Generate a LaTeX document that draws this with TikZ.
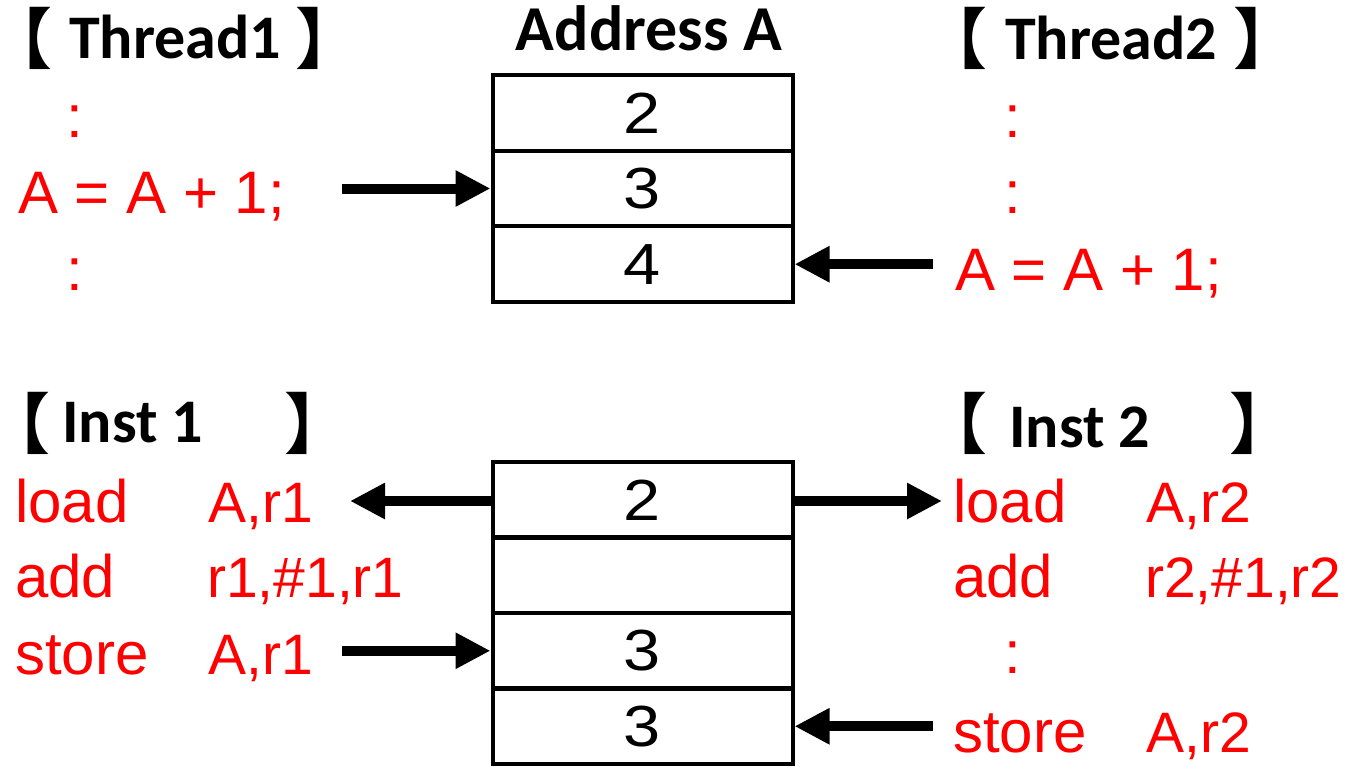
\documentclass[tikz,border=0pt]{standalone}
\usepackage{fontspec}
\usepackage{graphicx}
\setmainfont{Liberation Sans}
\newfontfamily\lblfont{Carlito}
\newfontfamily\cjkfont{Noto Sans CJK JP Bold}
\usetikzlibrary{arrows.meta}
\newcommand{\obr}{\makebox[0.62em][r]{【}}
\newcommand{\cbr}{\makebox[0.62em][l]{】}}
\newcommand{\dig}[1]{\scalebox{1.15}[1]{#1}}
\begin{document}
\begin{tikzpicture}[x=1pt,y=-1pt,
  code/.style={font=\fontsize{60}{72}\selectfont, text=red, inner sep=0pt, anchor=base west},
  oper/.style={code, font=\fontsize{57}{68}\selectfont},
  lbl/.style={font=\lblfont\bfseries\fontsize{62}{74}\selectfont, inner sep=0pt, anchor=base west},
  brk/.style={font=\cjkfont\fontsize{66}{78}\selectfont, inner sep=0pt},
  cell/.style={draw, line width=4pt, minimum width=300pt, minimum height=75.6pt, inner sep=0pt, font=\fontsize{58}{68}\selectfont},
  arr/.style={line width=10pt, -{Triangle[length=35pt,width=34pt]}}]
\useasboundingbox (0,0) rectangle (1352,766);
% ---- top: threads ----
\node[brk, anchor=north east] (b1l) at (53,7) {\obr};
\node[lbl] (t1) at (69,58) {Thread1};
\node[brk, anchor=north west] (b1r) at (295,7) {\cbr};
\node[lbl, anchor=base, font=\lblfont\bfseries\fontsize{64}{76}\selectfont] (addr) at (649,50) {Address A};
\node[code] (t1c1) at (66,137) {:};
\node[code] (t1a) at (18,213) {A = A + 1;};
\node[code] (t1c2) at (66,290) {:};
\node[brk, anchor=north east] (b2l) at (988,7) {\obr};
\node[lbl] (t2) at (1005,59) {Thread2};
\node[brk, anchor=north west] (b2r) at (1233,7) {\cbr};
\node[code] (t2c1) at (1004,137) {:};
\node[code] (t2c2) at (1004,213) {:};
\node[code] (t2a) at (955,290) {A = A + 1;};
\node[cell] (c1) at (642.5,112.8) {\dig{2}};
\node[cell] (c2) at (642.5,188.5) {\dig{3}};
\node[cell] (c3) at (642.5,264.2) {\dig{4}};
\coordinate (a1s) at (342,188.5);
\draw[arr] (a1s) -- (c2.west);
\coordinate (a2s) at (933,264.2);
\draw[arr] (a2s) -- (c3.east);
% ---- bottom: instructions ----
\node[brk, anchor=north east] (b3l) at (51,392) {\obr};
\node[lbl] (i1) at (62,442) {Inst 1};
\node[brk, anchor=north west] (b3r) at (284,392) {\cbr};
\node[brk, anchor=north east] (b4l) at (988,392) {\obr};
\node[lbl] (i2) at (1009,447) {Inst 2};
\node[brk, anchor=north west] (b4r) at (1229,392) {\cbr};
\node[code] (l1) at (15,522) {load};
\node[oper] (l1o) at (208,522) {A,r1};
\node[code] (l2) at (15,597) {add};
\node[oper] (l2o) at (207,597) {r1,\#1,r1};
\node[code] (l3) at (15,674) {store};
\node[oper] (l3o) at (208,674) {A,r1};
\node[code] (r1) at (953,522) {load};
\node[oper] (r1o) at (1146,522) {A,r2};
\node[code] (r2) at (953,597) {add};
\node[oper] (r2o) at (1145,597) {r2,\#1,r2};
\node[code] (r3c) at (1004,673) {:};
\node[code] (r3) at (953,752) {store};
\node[oper] (r3o) at (1146,752) {A,r2};
\node[cell] (d1) at (642.5,499.75) {\dig{2}};
\node[cell] (d2) at (642.5,575.25) {};
\node[cell] (d3) at (642.5,650.75) {\dig{3}};
\node[cell] (d4) at (642.5,726.25) {\dig{3}};
\coordinate (a3e) at (350,501);
\draw[arr] (d1.west |- a3e) -- (a3e);
\coordinate (a4e) at (942,501);
\draw[arr] (d1.east |- a4e) -- (a4e);
\coordinate (a5s) at (342,650.75);
\draw[arr] (a5s) -- (d3.west);
\coordinate (a6s) at (933,726.25);
\draw[arr] (a6s) -- (d4.east);
\end{tikzpicture}
\end{document}
